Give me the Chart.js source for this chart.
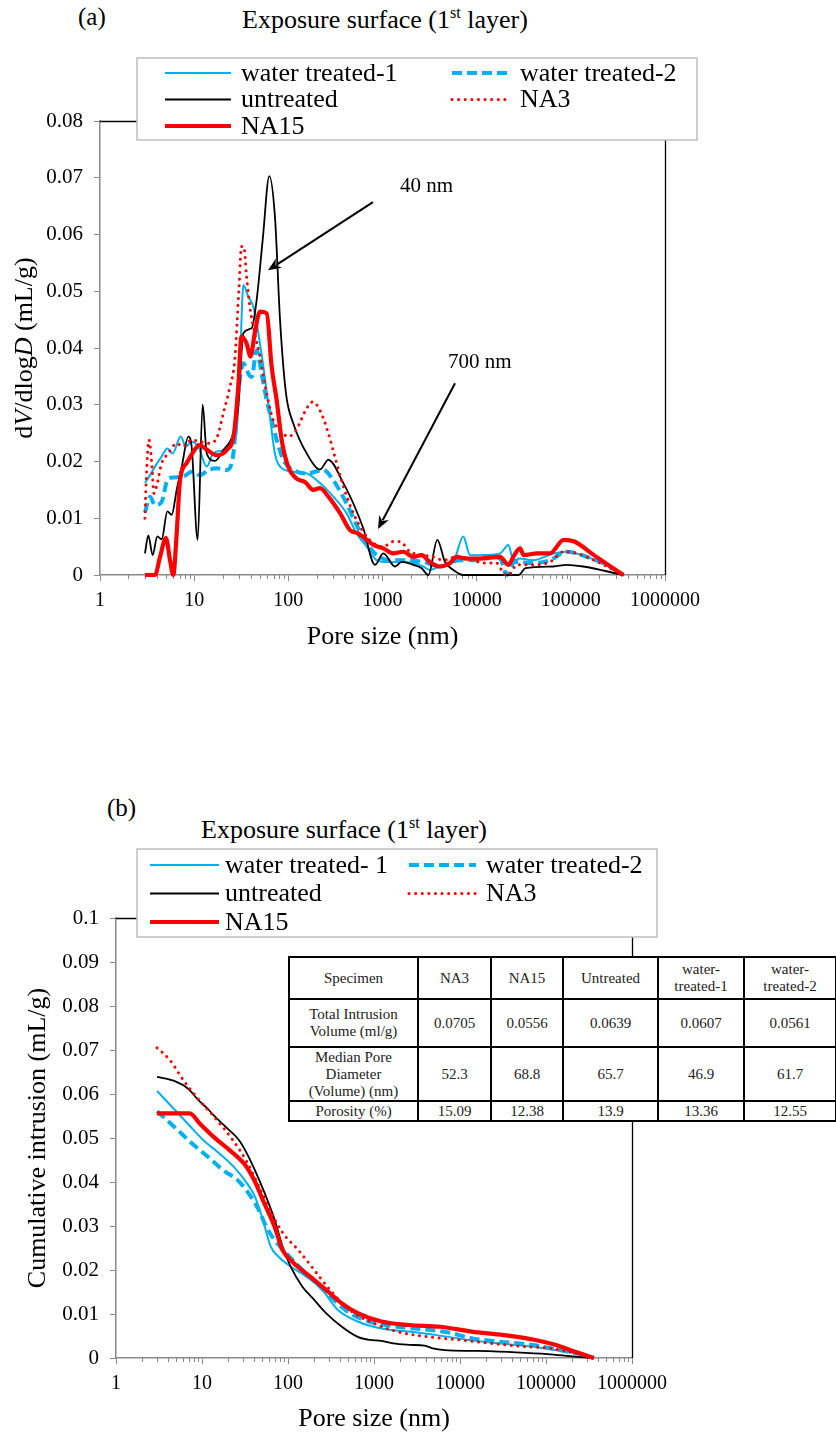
<!DOCTYPE html>
<html>
<head>
<meta charset="utf-8">
<script src="https://cdn.jsdelivr.net/npm/chart.js@4.4.1/dist/chart.umd.min.js"></script>
<style>
  html, body { margin: 0; padding: 0; background: #fff; }
  #page { position: relative; width: 836px; height: 1435px; overflow: hidden;
          font-family: "Liberation Serif", "Times New Roman", serif; color: #000; }
  canvas { position: absolute; left: 0; }
  .lbl { position: absolute; white-space: nowrap; line-height: 30px; }
  .lbl sup { font-size: 62%; line-height: 0; vertical-align: 0.62em; }
  #stats { position: absolute; left: 288px; top: 956px; border-collapse: collapse; table-layout: fixed;
           font-size: 15px; line-height: 17px; color: #222; background: #fff; z-index: 2; }
  #stats td { border: 2px solid #000; text-align: center; vertical-align: middle; padding: 0;
              white-space: pre-line; overflow: hidden; }
</style>
</head>
<body>
<div id="page">
  <div class="lbl" style="left:78px;top:2px;font-size:25px;">(a)</div>
  <div class="lbl" style="left:242px;top:5px;font-size:26px;">Exposure surface (1<sup>st</sup> layer)</div>
  <canvas id="distChart" width="836" height="660" style="top:0;width:836px;height:660px;"></canvas>

  <div class="lbl" style="left:107px;top:793px;font-size:25px;">(b)</div>
  <div class="lbl" style="left:201px;top:815px;font-size:26px;">Exposure surface (1<sup>st</sup> layer)</div>
  <canvas id="cumChart" width="836" height="735" style="top:700px;width:836px;height:735px;"></canvas>
  <table id="stats"></table>
</div>

<script>
// ---------- pore size distribution, dV/dlogD (mL/g) vs pore size (nm) ----------
const wt1Dist = [
  [3.0,0.0162],[3.4,0.0176],[3.84,0.0191],[4.52,0.0209],[5.19,0.0223],[5.9,0.0214],[7.2,0.0244],
  [8.17,0.0226],[9.4,0.0235],[11.1,0.0226],[13.6,0.0191],[15.9,0.0214],[20.4,0.0220],[25,0.0232],
  [28.2,0.0250],[30.6,0.0367],[33.3,0.0511],[37.6,0.0490],[42.5,0.0473],[48,0.0426],[54.3,0.0367],
  [63.8,0.0279],[72,0.0214],[81.6,0.0191],[113,0.0182],[157,0.0179],[217,0.0162],[300,0.0138],
  [415,0.0109],[530,0.0073],[680,0.0050],[870,0.0026],[1100,0.0023],[1530,0.0023],[2125,0.0021],
  [2700,0.0015],[3180,0.0009],[4050,0.0015],[5650,0.0023],[7210,0.0068],[8500,0.0035],[10800,0.0035],
  [17700,0.0038],[21700,0.0053],[24500,0.0026],[28900,0.0029],[39800,0.0026],[65200,0.0038],
  [90300,0.0041],[147000,0.0032],[240000,0.0018],[360000,0]
];
const wt2Dist = [
  [3.0,0.0110],[3.4,0.0138],[3.84,0.0123],[4.52,0.0129],[5.19,0.0167],[6.0,0.0172],[7.6,0.0173],
  [9.4,0.0182],[11.5,0.0176],[14.2,0.0185],[17.3,0.0188],[22.1,0.0185],[26.1,0.0214],[29.4,0.0320],
  [33.3,0.0373],[37.6,0.0355],[40.8,0.0349],[46.1,0.0396],[52,0.0355],[58.9,0.0308],[66.5,0.0273],
  [75.2,0.0238],[88.4,0.0203],[113,0.0185],[157,0.0179],[235,0.0185],[300,0.0167],[415,0.0126],
  [530,0.0088],[680,0.0056],[870,0.0035],[1190,0.0026],[1800,0.0026],[2700,0.0023],[4050,0.0015],
  [6650,0.0026],[10800,0.0026],[12800,0.0032],[17700,0.0029],[20900,0],[25100,0.0023],[39800,0.0021],
  [60000,0.0026],[90300,0.0041],[147000,0.0032],[240000,0.0018],[360000,0]
];
const untreatedDist = [
  [3.0,0.0038],[3.26,0.0070],[3.62,0.0035],[4.06,0.0068],[4.52,0.0063],[5.19,0.0112],[5.77,0.0106],
  [6.52,0.0150],[7.37,0.0190],[8.67,0.0244],[9.4,0.0226],[10.9,0.0062],[12.3,0.0300],[13.6,0.0214],
  [16.6,0.0201],[20.4,0.0220],[26.1,0.0250],[29.4,0.0297],[33.3,0.0426],[40.8,0.0435],[46.1,0.0485],
  [53.4,0.0590],[62.8,0.0703],[72.1,0.0631],[81.6,0.0450],[94.4,0.0320],[113,0.0267],[157,0.0214],
  [217,0.0186],[266,0.0203],[384,0.0162],[490,0.0126],[626,0.0082],[832,0.0018],[1021,0.0038],
  [1358,0.0015],[1600,0.0023],[2125,0.0018],[2605,0.0012],[3070,0],[3822,0.0062],[4610,0.0023],
  [5650,0.0009],[7210,0],[28000,0],[33000,0.0012],[65200,0.0015],[90300,0.0018],[135000,0.0015],[360000,0]
];
const na3Dist = [
  [3.0,0.0100],[3.1,0.0167],[3.31,0.0238],[3.54,0.0197],[3.74,0.0144],[4.06,0.0162],[4.52,0.0197],
  [5.3,0.0214],[6.52,0.0232],[7.6,0.0226],[9.4,0.0238],[11.5,0.0235],[14.2,0.0232],[17.3,0.0241],
  [20.4,0.0285],[24,0.0332],[27,0.0379],[30,0.0508],[31.8,0.0579],[33.6,0.0579],[36,0.0526],[39,0.0473],
  [44,0.0426],[50,0.0385],[58.9,0.0320],[69,0.0273],[81.6,0.0256],[99.6,0.0244],[122,0.0256],[150,0.0288],
  [181,0.0305],[217,0.0290],[266,0.0250],[311,0.0209],[384,0.0156],[490,0.0109],[626,0.0076],[800,0.0056],
  [1021,0.0050],[1300,0.0059],[1530,0.0059],[1960,0.0041],[2700,0.0035],[3460,0.0032],[4430,0.0026],
  [6120,0.0032],[8500,0.0029],[11700,0.0021],[16300,0.0021],[19300,0.0003],[21700,0],[26800,0.0018],
  [39800,0.0018],[60000,0.0023],[84000,0.0041],[116000,0.0038],[204000,0.0021],[360000,0]
];
const na15Dist = [
  [3.0,0],[3.84,0],[4.34,0.0032],[5.02,0.0065],[5.54,0.0026],[6.0,0],[6.52,0.0073],[7.08,0.0167],
  [8.3,0.0197],[9.8,0.0217],[11.3,0.0229],[13.6,0.0221],[17.3,0.0211],[22.1,0.0220],[26.5,0.0250],
  [29.4,0.0332],[31.8,0.0420],[36,0.0408],[39.7,0.0385],[44,0.0426],[50,0.0464],[58.9,0.0461],
  [66.5,0.0367],[75.2,0.0308],[84.9,0.0238],[99.6,0.0191],[122,0.0170],[150,0.0164],[184,0.0150],
  [217,0.0153],[266,0.0138],[354,0.0109],[452,0.0079],[555,0.0073],[680,0.0062],[800,0.0053],
  [1021,0.0047],[1300,0.0038],[1660,0.0041],[2125,0.0032],[2600,0.0035],[3180,0.0023],[4050,0.0015],
  [5200,0.0021],[6120,0.0032],[7800,0.0029],[10800,0.0029],[17700,0.0032],[21700,0.0018],[25100,0.0035],
  [28900,0.0047],[31600,0.0035],[43900,0.0038],[60000,0.0038],[84000,0.0062],[109000,0.0059],
  [176000,0.0035],[360000,0]
];

// ---------- cumulative intrusion (mL/g) vs pore size (nm) ----------
const wt1Cum = [
  [3,0.0607],[4.47,0.0571],[6.8,0.0533],[10.4,0.0495],[15.9,0.0465],[24.3,0.0431],[33.4,0.0397],
  [41.2,0.0367],[51,0.0314],[63,0.0253],[77.8,0.0230],[107,0.0208],[163,0.0185],[249,0.0155],
  [381,0.0109],[646,0.0083],[1220,0.0067],[2560,0.0060],[5360,0.0052],[12500,0.0041],[29200,0.0033],
  [68100,0.0026],[128000,0.0018],[218000,0.0011],[360000,0]
];
const wt2Cum = [
  [3,0.0561],[4.97,0.0522],[7.6,0.0488],[11.6,0.0458],[17.6,0.0427],[27,0.0401],[37,0.0367],
  [45.8,0.0336],[56,0.0298],[70,0.0268],[95.7,0.0238],[147,0.0200],[225,0.0166],[343,0.0132],
  [523,0.0102],[887,0.0083],[1860,0.0071],[4340,0.0064],[7380,0.0058],[13600,0.0045],[29200,0.0037],
  [68100,0.0030],[128000,0.0020],[218000,0.0011],[360000,0]
];
const untreatedCum = [
  [3,0.0639],[4.97,0.0628],[6.8,0.0613],[9.4,0.0583],[11.6,0.0567],[13.6,0.0552],[19.7,0.0522],
  [27,0.0495],[31.6,0.0473],[41.2,0.0427],[53.7,0.0374],[70,0.0314],[86.5,0.0253],[107,0.0208],
  [147,0.0162],[202,0.0132],[277,0.0102],[423,0.0071],[646,0.0048],[887,0.0041],[1220,0.0039],
  [1670,0.0033],[2560,0.0030],[3900,0.0028],[4820,0.0022],[6620,0.0018],[15400,0.0016],[44500,0.0013],
  [104000,0.0009],[218000,0.0003],[360000,0]
];
const na3Cum = [
  [3,0.0705],[4.24,0.0677],[6.14,0.0630],[9.4,0.0585],[14.3,0.0545],[21.9,0.0500],[33.4,0.0445],
  [45.8,0.0390],[63,0.0332],[86.5,0.0285],[132,0.0245],[202,0.0200],[308,0.0155],[523,0.0109],
  [986,0.0079],[1860,0.0060],[4340,0.0048],[10100,0.0041],[23600,0.0033],[55000,0.0026],
  [104000,0.0023],[218000,0.0011],[360000,0]
];
const na15Cum = [
  [3,0.0556],[7.2,0.0556],[9.4,0.0533],[14.3,0.0499],[21.9,0.0469],[31.6,0.0439],[41.2,0.0401],
  [51,0.0359],[70,0.0298],[86.5,0.0245],[118,0.0215],[181,0.0185],[277,0.0155],[423,0.0124],
  [646,0.0102],[1220,0.0083],[2560,0.0075],[5950,0.0071],[13600,0.0060],[32200,0.0052],[75000,0.0041],
  [128000,0.0030],[218000,0.0014],[360000,0]
];

// ---------- summary table ----------
const specimenNames   = ['NA3', 'NA15', 'Untreated', 'water-\ntreated-1', 'water-\ntreated-2'];
const totalIntrusion  = [0.0705, 0.0556, 0.0639, 0.0607, 0.0561];
const medianPoreDiam  = [52.3, 68.8, 65.7, 46.9, 61.7];
const porosityPct     = [15.09, 12.38, 13.9, 13.36, 12.55];

// ---------- axes ----------
const decadeTicks = [1, 10, 100, 1000, 10000, 100000, 1000000];

const FONT = '"Liberation Serif", "Times New Roman", serif';
const AXIS_GREY = '#898989';
Chart.defaults.font.family = FONT;

const STYLE = {
  wt1:       { borderColor: '#00b0f0', borderWidth: 2,   borderDash: [] },
  wt2:       { borderColor: '#00b0f0', borderWidth: 4,   borderDash: [10, 5] },
  untreated: { borderColor: '#000000', borderWidth: 1.8, borderDash: [] },
  na3:       { borderColor: '#ff0000', borderWidth: 3,   borderDash: [0.1, 6.5], borderCapStyle: 'round' },
  na15:      { borderColor: '#ff0000', borderWidth: 4.2, borderDash: [] }
};

function series(label, pts, style, order) {
  return Object.assign({
    label,
    data: pts.map(([x, y]) => ({ x, y })),
    pointRadius: 0,
    pointHoverRadius: 0,
    fill: false,
    cubicInterpolationMode: 'monotone',
    clip: 6,
    order
  }, style);
}

function fmtY(v) { return Number(v.toFixed(2)).toString(); }

// Plot frame (top/right) and minor tick marks of the log axis
const frame = {
  id: 'frame',
  beforeDatasetsDraw(chart) {
    const { ctx, chartArea: a } = chart;
    ctx.save();
    ctx.strokeStyle = '#000';
    ctx.lineWidth = 1.3;
    ctx.beginPath();
    ctx.moveTo(a.left, a.top + 0.5);
    ctx.lineTo(a.right + 0.5, a.top + 0.5);
    ctx.lineTo(a.right + 0.5, a.bottom);
    ctx.stroke();
    const xs = chart.scales.x;
    ctx.strokeStyle = AXIS_GREY;
    ctx.lineWidth = 1;
    ctx.beginPath();
    for (let e = 0; e < decadeTicks.length - 1; e++) {
      for (let k = 2; k <= 9; k++) {
        const px = Math.round(xs.getPixelForValue(k * decadeTicks[e])) + 0.5;
        ctx.moveTo(px, a.bottom);
        ctx.lineTo(px, a.bottom + 4);
      }
    }
    ctx.stroke();
    ctx.restore();
  }
};

function drawRich(ctx, parts, size) {
  let total = 0;
  parts.forEach(p => { ctx.font = (p.i ? 'italic ' : '') + size + 'px ' + FONT; total += ctx.measureText(p.t).width; });
  let x = -total / 2;
  parts.forEach(p => {
    ctx.font = (p.i ? 'italic ' : '') + size + 'px ' + FONT;
    ctx.fillText(p.t, x, 0);
    x += ctx.measureText(p.t).width;
  });
}

// Axis titles, boxed legend and arrow notes
const decor = {
  id: 'decor',
  afterDraw(chart, args, o) {
    const { ctx } = chart;
    ctx.save();
    ctx.fillStyle = '#000';
    ctx.textBaseline = 'middle';
    ctx.textAlign = 'left';

    // x title
    ctx.save();
    ctx.translate(o.xTitle.x, o.xTitle.y);
    drawRich(ctx, [{ t: o.xTitle.text }], o.titleSize);
    ctx.restore();
    // y title
    ctx.save();
    ctx.translate(o.yTitle.x, o.yTitle.y);
    ctx.rotate(-Math.PI / 2);
    drawRich(ctx, o.yTitle.parts, o.titleSize);
    ctx.restore();

    // arrow notes (positions in data units)
    const xs = chart.scales.x, ys = chart.scales.y;
    (o.notes || []).forEach(n => {
      const tx = xs.getPixelForValue(n.tip[0]), ty = ys.getPixelForValue(n.tip[1]);
      const sx = xs.getPixelForValue(n.tail[0]), sy = ys.getPixelForValue(n.tail[1]);
      const ang = Math.atan2(ty - sy, tx - sx);
      const L = 13, W = 5.5;
      const bx = tx - L * Math.cos(ang), by = ty - L * Math.sin(ang);
      ctx.strokeStyle = '#000';
      ctx.lineWidth = 2;
      ctx.beginPath();
      ctx.moveTo(sx, sy);
      ctx.lineTo(bx + 3 * Math.cos(ang), by + 3 * Math.sin(ang));
      ctx.stroke();
      ctx.beginPath();
      ctx.moveTo(tx, ty);
      ctx.lineTo(bx + W * Math.sin(ang), by - W * Math.cos(ang));
      ctx.lineTo(bx + 4 * Math.cos(ang), by + 4 * Math.sin(ang));
      ctx.lineTo(bx - W * Math.sin(ang), by + W * Math.cos(ang));
      ctx.closePath();
      ctx.fill();
      ctx.font = o.noteSize + 'px ' + FONT;
      ctx.fillText(n.text, xs.getPixelForValue(n.at[0]), ys.getPixelForValue(n.at[1]));
    });

    // legend
    const L = o.legend;
    ctx.fillStyle = '#fff';
    ctx.fillRect(L.x, L.y, L.w, L.h);
    ctx.strokeStyle = '#bfbfbf';
    ctx.lineWidth = 1.5;
    ctx.strokeRect(L.x, L.y, L.w, L.h);
    chart.data.datasets.forEach((ds, i) => {
      const col = L.cols[i % 2], y = L.rows[Math.floor(i / 2)];
      ctx.save();
      ctx.strokeStyle = ds.borderColor;
      ctx.lineWidth = ds.borderWidth;
      ctx.lineCap = ds.borderCapStyle || 'butt';
      ctx.setLineDash(ds.borderDash || []);
      ctx.beginPath();
      ctx.moveTo(col.s, y);
      ctx.lineTo(col.e, y);
      ctx.stroke();
      ctx.restore();
      ctx.fillStyle = '#000';
      ctx.font = L.size + 'px ' + FONT;
      ctx.fillText(ds.label, col.t, y + 1);
    });
    ctx.restore();
  }
};

function logX(height, bottom) {
  return {
    type: 'logarithmic',
    min: 1, max: 1000000,
    afterBuildTicks(s) { s.ticks = decadeTicks.map(v => ({ value: v })); },
    afterFit(s) { s.height = height - bottom; },
    ticks: { callback: v => String(v), autoSkip: false, maxRotation: 0, color: '#000',
             font: { size: 20 }, padding: 8 },
    grid: { drawOnChartArea: false, color: AXIS_GREY, tickLength: 6, lineWidth: 1 },
    border: { color: AXIS_GREY, width: 1.5 }
  };
}
function linY(max, left) {
  return {
    type: 'linear',
    min: 0, max,
    afterFit(s) { s.width = left; },
    ticks: { stepSize: 0.01, callback: v => fmtY(v), color: '#000', font: { size: 21 }, padding: 11 },
    grid: { drawOnChartArea: false, color: AXIS_GREY, tickLength: 6, lineWidth: 1 },
    border: { color: AXIS_GREY, width: 1.5 }
  };
}

// ---------- chart (a) ----------
new Chart(document.getElementById('distChart'), {
  type: 'line',
  data: {
    datasets: [
      series('water treated-1', wt1Dist, STYLE.wt1, 4),
      series('water treated-2', wt2Dist, STYLE.wt2, 3),
      series('untreated', untreatedDist, STYLE.untreated, 2),
      series('NA3', na3Dist, STYLE.na3, 1),
      series('NA15', na15Dist, STYLE.na15, 0)
    ]
  },
  options: {
    responsive: false, animation: false, devicePixelRatio: 1,
    layout: { padding: { left: 0, top: 121, right: 171, bottom: 0 } },
    scales: { x: logX(660, 575), y: linY(0.08, 100) },
    plugins: {
      legend: { display: false }, tooltip: { enabled: false },
      decor: {
        titleSize: 26, noteSize: 21,
        xTitle: { text: 'Pore size (nm)', x: 382.5, y: 637 },
        yTitle: { x: 25, y: 348, parts: [{ t: 'd' }, { t: 'V', i: true }, { t: '/dlog' }, { t: 'D', i: true }, { t: ' (mL/g)' }] },
        notes: [
          { text: '40 nm',  tip: [60.8, 0.0537], tail: [792, 0.0657],  at: [1535, 0.0684] },
          { text: '700 nm', tip: [896, 0.0081],  tail: [5890, 0.0338], at: [4955, 0.0374] }
        ],
        legend: { x: 137, y: 58, w: 560, h: 82, size: 26, rows: [73, 99.5, 126],
                  cols: [{ s: 165, e: 231, t: 241 }, { s: 452, e: 509, t: 520 }] }
      }
    }
  },
  plugins: [frame, decor]
});

// ---------- chart (b) ----------
new Chart(document.getElementById('cumChart'), {
  type: 'line',
  data: {
    datasets: [
      series('water treated- 1', wt1Cum, STYLE.wt1, 4),
      series('water treated-2', wt2Cum, STYLE.wt2, 3),
      series('untreated', untreatedCum, STYLE.untreated, 2),
      series('NA3', na3Cum, STYLE.na3, 1),
      series('NA15', na15Cum, STYLE.na15, 0)
    ]
  },
  options: {
    responsive: false, animation: false, devicePixelRatio: 1,
    layout: { padding: { left: 0, top: 218, right: 204, bottom: 0 } },
    scales: { x: logX(735, 658), y: linY(0.1, 116) },
    plugins: {
      legend: { display: false }, tooltip: { enabled: false },
      decor: {
        titleSize: 26, noteSize: 21,
        xTitle: { text: 'Pore size (nm)', x: 374, y: 719 },
        yTitle: { x: 38, y: 438, parts: [{ t: 'Cumulative intrusion (mL/g)' }] },
        notes: [],
        legend: { x: 137, y: 149, w: 520, h: 88, size: 26, rows: [165, 193.5, 222],
                  cols: [{ s: 150, e: 219, t: 225 }, { s: 409, e: 476, t: 486 }] }
      }
    }
  },
  plugins: [frame, decor]
});

// ---------- summary table ----------
(function buildTable() {
  const colW = [129, 73, 72, 95, 86, 92];
  const rowH = [42, 48, 54, 20];
  const rows = [
    ['Specimen', ...specimenNames],
    ['Total Intrusion\nVolume (ml/g)', ...totalIntrusion.map(v => v.toFixed(4))],
    ['Median Pore\nDiameter\n(Volume) (nm)', ...medianPoreDiam.map(String)],
    ['Porosity (%)', ...porosityPct.map(String)]
  ];
  const t = document.getElementById('stats');
  t.style.width = colW.reduce((a, b) => a + b, 0) + 'px';
  const cg = document.createElement('colgroup');
  colW.forEach(w => { const c = document.createElement('col'); c.style.width = w + 'px'; cg.appendChild(c); });
  t.appendChild(cg);
  rows.forEach((r, i) => {
    const tr = document.createElement('tr');
    tr.style.height = rowH[i] + 'px';
    r.forEach(txt => { const td = document.createElement('td'); td.textContent = txt; tr.appendChild(td); });
    t.appendChild(tr);
  });
})();
</script>
</body>
</html>
